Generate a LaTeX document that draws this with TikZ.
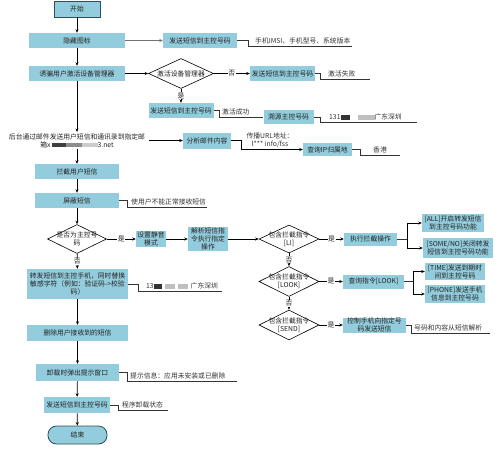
\documentclass[tikz,border=0pt]{standalone}
\usepackage{fontspec}
\setmainfont{Noto Sans CJK SC}
\usetikzlibrary{shapes.geometric,arrows.meta}
\definecolor{boxfill}{HTML}{93CDDD}
\definecolor{bordc}{HTML}{2E4F5C}
\definecolor{txt}{HTML}{222222}
\definecolor{notec}{HTML}{333333}
\newcommand{\redA}[1]{\textcolor{black!80}{\rule{#1}{4.5pt}}}
\newcommand{\redB}[1]{\textcolor{black!25}{\rule{#1}{4.5pt}}}
\begin{document}
\begin{tikzpicture}[x=1pt,y=-1pt,
  font=\fontsize{6.8}{8.2}\selectfont,
  bx/.style={rectangle, fill=boxfill, inner sep=0pt, align=center, text=txt},
  term/.style={bx, draw=bordc, line width=0.8pt},
  dia/.style={diamond, draw=black, fill=white, inner sep=0pt, line width=0.6pt},
  dtext/.style={align=center, text=txt, inner sep=0pt},
  arr/.style={draw=black, line width=0.7pt, -{Stealth[length=3.5pt,width=3pt]}},
  ln/.style={draw=notec, line width=0.7pt},
  lab/.style={fill=white, inner sep=0.6pt, text=txt},
  nt/.style={text=notec, inner sep=0pt, anchor=south west},
]
\useasboundingbox (0,0) rectangle (501,448);

% main column
\node[term, minimum width=46pt, minimum height=16pt] (start) at (77,9) {开始};
\node[bx, minimum width=96pt, minimum height=15pt] (hide) at (77,40.5) {隐藏图标};
\node[bx, minimum width=74pt, minimum height=15pt] (s1) at (200,40.5) {发送短信到主控号码};
\node[bx, minimum width=96pt, minimum height=15pt] (lure) at (77,73.5) {诱骗用户激活设备管理器};
\node[dia, minimum width=65pt, minimum height=30pt] (d1) at (181,73.5) {};
\node[dtext] at (d1) {激活设备管理器};
\node[bx, minimum width=65pt, minimum height=15pt] (s2) at (282.5,73.5) {发送短信到主控号码};
\node[bx, minimum width=65pt, minimum height=15pt] (s3) at (181,110.5) {发送短信到主控号码};
\node[bx, minimum width=50pt, minimum height=14pt] (trace) at (288.5,117) {溯源主控号码};

\node[align=center, text=txt, inner xsep=4pt, inner ysep=1pt] (mail) at (77,140.5)
  {后台通过邮件发送用户短信和通讯录到指定邮\\箱x\,\textcolor{black!75}{\rule{14pt}{4.5pt}}\textcolor{black!45}{\rule{16pt}{4.5pt}}\textcolor{black!20}{\rule{16pt}{4.5pt}}3.net};
\node[bx, minimum width=48pt, minimum height=16pt] (analyze) at (207,140.5) {分析邮件内容};
\node[bx, minimum width=49pt, minimum height=13pt] (ip) at (327.5,149.5) {查询IP归属地};

\node[bx, minimum width=84pt, minimum height=15pt] (intercept) at (77,171.5) {拦截用户短信};
\node[bx, minimum width=84pt, minimum height=15pt] (block) at (77,200.5) {屏蔽短信};
\node[dia, minimum width=59pt, minimum height=29pt] (d2) at (77,239) {};
\node[dtext] at (d2) {是否为主控号\\码};
\node[bx, minimum width=30pt, minimum height=16pt] (mute) at (151,239) {设置静音\\模式};
\node[bx, minimum width=40pt, minimum height=24pt] (parse) at (208,239) {解析短信指\\令执行指定\\操作};

\node[dia, minimum width=60pt, minimum height=28pt] (dLI) at (289,239) {};
\node[dtext] at (dLI) {包含拦截指令\\{[LI]}};
\node[bx, minimum width=53pt, minimum height=13pt] (exec) at (370.5,239) {执行拦截操作};
\coordinate (br1) at (407,239);
\node[bx, minimum width=62pt, minimum height=18pt] (all) at (453,223) {[ALL]开启转发短信\\到主控号码功能};
\node[bx, minimum width=70pt, minimum height=20pt] (some) at (458,248) {[SOME/NO]关闭转发\\短信到主控号码功能};

\node[dia, minimum width=60pt, minimum height=30pt] (dLOOK) at (289,281.5) {};
\node[dtext] at (dLOOK) {包含拦截指令\\{[LOOK]}};
\node[bx, minimum width=61pt, minimum height=14pt] (look) at (373.5,281.5) {查询指令[LOOK]};
\coordinate (br2) at (413,281.5);
\node[bx, minimum width=60pt, minimum height=17pt] (time) at (455,271.5) {[TIME]发送到期时\\间到主控号码};
\node[bx, minimum width=60pt, minimum height=18pt] (phone) at (455,294) {[PHONE]发送手机\\信息到主控号码};

\node[dia, minimum width=60pt, minimum height=30pt] (dSEND) at (289,325) {};
\node[dtext] at (dSEND) {包含拦截指令\\{[SEND]}};
\node[bx, minimum width=63pt, minimum height=15pt] (ctrl) at (374.5,325) {控制手机向指定号\\码发送短信};

\node[bx, minimum width=101pt, minimum height=30pt] (fwd) at (77.5,284) {转发短信到主控手机，同时替换\\敏感字符（例如：验证码->校验\\码）};
\node[bx, minimum width=101pt, minimum height=16pt] (del) at (77.5,333) {删除用户接收到的短信};
\node[bx, minimum width=83pt, minimum height=17pt] (uninst) at (77.5,372.5) {卸载时弹出提示窗口};
\node[bx, minimum width=66pt, minimum height=16pt] (s4) at (77,405) {发送短信到主控号码};
\node[term, rounded corners=8.5pt, minimum width=59pt, minimum height=18pt] (stop) at (77.5,435) {结束};

% note end points
\coordinate (n1) at (352,46);
\coordinate (n2) at (370,79);
\coordinate (n3) at (417,122);
\coordinate (n4) at (400,155);
\coordinate (n5) at (207,207);
\coordinate (n6) at (490,333);
\coordinate (n7) at (222,291);
\coordinate (n8) at (237,381);
\coordinate (n9) at (168,410);

% connectors
\draw[arr] (start) -- (hide);
\draw[arr, draw=black!55] (hide) -- (s1);
\draw[ln] (s1.east) -- ++(11,0) |- (n1);
\draw[arr] (hide) -- (lure);
\draw[arr] (lure) -- (d1);
\draw[arr] (d1) -- node[lab]{否} (s2);
\draw[ln] (s2.east) -- ++(5,0) |- (n2);
\draw[arr] (d1) -- node[lab]{是} (s3);
\draw[ln] (s3.east) -- ++(6,0) |- (trace.west);
\draw[ln] (trace.east) -- ++(7,0) |- (n3);
\draw[arr] (lure) -- (mail);
\draw[arr] (mail) -- (analyze);
\draw[arr] (analyze.east) -- ++(10,0) |- (ip.west);
\draw[ln] (ip.east) -- ++(8,0) |- (n4);
\draw[arr] (mail) -- (intercept);
\draw[arr] (intercept) -- (block);
\draw[ln] (block.east) -- ++(8,0) |- (n5);
\draw[arr] (block) -- (d2);
\draw[arr] (d2) -- node[lab]{是} (mute);
\draw[arr] (mute) -- (parse);
\draw[arr] (parse) -- (dLI);
\draw[arr] (dLI) -- node[lab]{是} (exec);
\draw[ln] (exec.east) -- (br1);
\draw[arr] (br1) |- (all.west);
\draw[arr] (br1) |- (some.west);
\draw[arr] (dLI) -- node[lab]{否} (dLOOK);
\draw[arr] (dLOOK) -- node[lab]{是} (look);
\draw[ln] (look.east) -- (br2);
\draw[arr] (br2) |- (time.west);
\draw[arr] (br2) |- (phone.west);
\draw[arr] (dLOOK) -- node[lab]{否} (dSEND);
\draw[arr] (dSEND) -- node[lab]{是} (ctrl);
\draw[ln] (ctrl.east) -- ++(5,0) |- (n6);
\draw[arr] (d2) -- node[lab]{否} (fwd);
\draw[ln] (fwd.east) -- ++(10,0) |- (n7);
\draw[arr] (fwd) -- (del);
\draw[arr] (del) -- (uninst);
\draw[ln] (uninst.east) -- ++(8,0) |- (n8);
\draw[arr] (uninst) -- (s4);
\draw[ln] (s4.east) -- ++(8,0) |- (n9);
\draw[arr] (s4) -- (stop);

% note texts
\node[nt] at (255,44.5) {手机IMSI、手机型号、系统版本};
\node[nt] at (328,77.5) {激活失败};
\node[nt] at (222,115) {激活成功};
\node[nt] at (329,120.5) {131\redA{9pt}\hspace{8pt}\redB{17pt}广东深圳};
\node[align=center, text=notec, inner sep=0pt] (url) at (270,140) {传播URL地址：\\l*** info/fss};
\node[nt] at (373,153.5) {香港};
\node[nt] at (131,205.5) {使用户不能正常接收短信};
\node[nt] at (414,331.5) {号码和内容从短信解析};
\node[nt] at (146,289.5) {13\redA{8pt}\hspace{3pt}\redB{10pt}\hspace{3pt}\redB{10pt}\hspace{3pt}广东深圳};
\node[nt] at (130,379.5) {提示信息：应用未安装或已删除};
\node[nt] at (122,408.5) {程序卸载状态};
\end{tikzpicture}
\end{document}
